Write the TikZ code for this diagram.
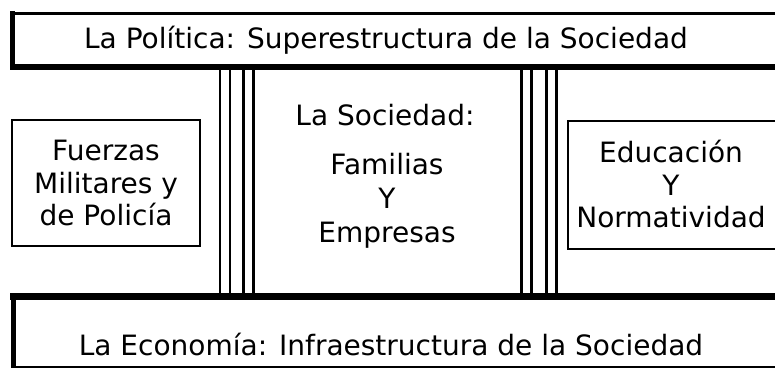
\documentclass[tikz,border=0pt]{standalone}
\usepackage{fontspec}
\setmainfont{DejaVu Sans}
\begin{document}
\begin{tikzpicture}[x=1pt,y=-1pt,
  txt/.style={font=\fontsize{28}{32.5}\selectfont, align=center, inner sep=0pt, text=black},
  sidebox/.style={draw=black, line width=1.5pt, inner sep=0pt},
  pillar/.style={line width=2.6pt, black}]
\useasboundingbox (0,0) rectangle (775,370);
\fill[white] (0,0) rectangle (775,370);
% top box: La Politica
\draw[line width=3pt] (12.5,13.5) -- (790,13.5);
\draw[line width=5pt] (12.5,11) -- (12.5,70);
\draw[line width=6pt] (10,67) -- (790,67);
\node[txt, anchor=base] (pol) at (386,48) {La Política: Superestructura de la Sociedad};
% bottom box: La Economia
\draw[line width=7pt] (10,296.5) -- (790,296.5);
\draw[line width=5pt] (13,293) -- (13,368);
\draw[line width=2pt] (13,367) -- (790,367);
\node[txt, anchor=base] (eco) at (391,355) {La Economía: Infraestructura de la Sociedad};
% pillars
\foreach \px in {220,230,243.5,253.5,521.5,531.5,546.5,556.5}
  \draw[pillar] (\px,70) -- (\px,293);
% side boxes
\node[sidebox, minimum width=188pt, minimum height=126pt] (fza) at (106,183) {};
\node[txt] (fzat) at (106,183) {Fuerzas\\Militares y\\de Policía};
\node[sidebox, minimum width=208pt, minimum height=128pt] (edu) at (672,185) {};
\node[txt] (edut) at (671,184) {Educación\\Y\\Normatividad};
% center text
\node[txt, anchor=base] (soc) at (385,125) {La Sociedad:};
\node[txt, font=\fontsize{28}{34}\selectfont] (fam) at (387,201) {Familias\\Y\\Empresas};
\end{tikzpicture}
\end{document}
